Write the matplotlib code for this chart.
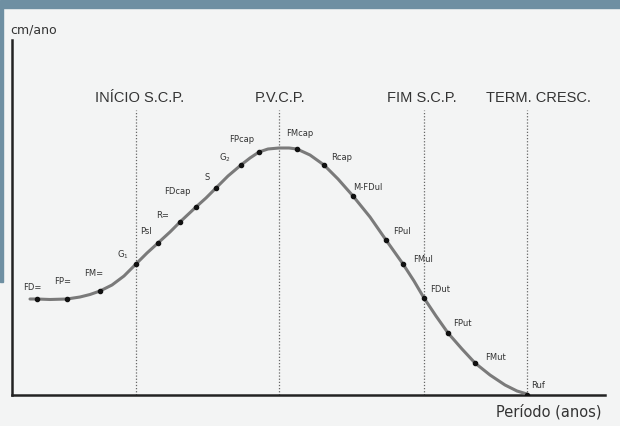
import matplotlib.pyplot as plt
from matplotlib.patches import Rectangle

# growth velocity curve (arbitrary units)
curve_x = [18, 25, 38, 55, 68, 78, 88, 100, 112, 124, 135, 146, 158, 168, 184, 194,
           204, 216, 229, 238, 247, 256, 267, 277, 285, 298, 312, 326, 341, 358, 374,
           391, 402, 412, 424, 436, 450, 463, 478, 493, 505, 515]
curve_y = [96, 96, 95.5, 96, 98, 100.5, 104, 110, 119, 131, 142, 152, 163, 173, 188, 197,
           207, 219, 230, 237, 243, 246, 247, 247, 246, 240, 230, 216, 199, 178, 155,
           131, 114, 97, 79, 62, 46, 32, 20, 10, 4, 1]

# marked points
point_names = ["FD=", "FP=", "FM=", "G$_1$", "Psl", "R=", "FDcap", "S", "G$_2$", "FPcap",
               "FMcap", "Rcap", "M-FDul", "FPul", "FMul", "FDut", "FPut", "FMut", "Ruf"]
point_x = [25, 55, 88, 124, 146, 168, 184, 204, 229, 247, 285, 312, 341, 374, 391, 412, 436, 463, 515]
point_y = [96, 96, 104, 131, 152, 173, 188, 207, 230, 243, 246, 230, 199, 155, 131, 97, 62, 32, 0]
label_dx = [-5, -4, -6, -13, -12, -17, -19, -9, -16, -17, 3, 18, 15, 16, 20, 16, 14, 20, 11]
label_dy = [12, 17, 18, 9, 11, 7, 15, 10, 7, 12, 15, 8, 8, 8, 5, 8, 10, 6, 10]

# phase markers
phase_names = ["INÍCIO S.C.P.", "P.V.C.P.", "FIM S.C.P.", "TERM. CRESC."]
phase_x = [124, 267, 412, 515]
phase_label_x = [128, 268, 410, 526]

bg = "#f3f4f4"
fig = plt.figure(figsize=(6.2, 4.26), dpi=100, facecolor=bg)
fig.patches.append(Rectangle((0, 1 - 8 / 426), 1, 8 / 426, transform=fig.transFigure,
                             color="#6e8fa2", zorder=0))
fig.patches.append(Rectangle((0, 1 - 282 / 426), 3 / 620, 274 / 426, transform=fig.transFigure,
                             color="#6e8fa2", zorder=0))

ax = fig.add_axes([12 / 620, 31 / 426, 593 / 620, 355 / 426])
ax.set_facecolor("none")
ax.set_xlim(0, 593)
ax.set_ylim(0, 355)
for s in ["top", "right"]:
    ax.spines[s].set_visible(False)
for s in ["left", "bottom"]:
    ax.spines[s].set_linewidth(1.8)
    ax.spines[s].set_color("#222222")
ax.set_xticks([])
ax.set_yticks([])

for x in phase_x:
    ax.plot([x, x], [0, 285], color="#666666", linestyle=(0, (1, 1.5)), linewidth=0.9)
for x, name in zip(phase_label_x, phase_names):
    ax.text(x, 297, name, ha="center", va="center", fontsize=10.5,
            family="Liberation Sans", color="#333333")

ax.plot(curve_x, curve_y, color="#7a7a7a", linewidth=2.2, solid_capstyle="round", zorder=3)
ax.scatter(point_x, point_y, s=9, color="#111111", zorder=4)
for name, x, y, dx, dy in zip(point_names, point_x, point_y, label_dx, label_dy):
    ax.annotate(name, (x, y), xytext=(dx, dy), textcoords="offset pixels",
                ha="center", va="center", fontsize=6, color="#333333")

fig.text(10 / 620, 1 - 30 / 426, "cm/ano", ha="left", va="center", fontsize=9, color="#333333")
fig.text(602 / 620, 1 - 412 / 426, "Período (anos)", ha="right", va="center",
         fontsize=10.5, color="#333333")

fig.savefig("out.png", dpi=100, facecolor=bg)
